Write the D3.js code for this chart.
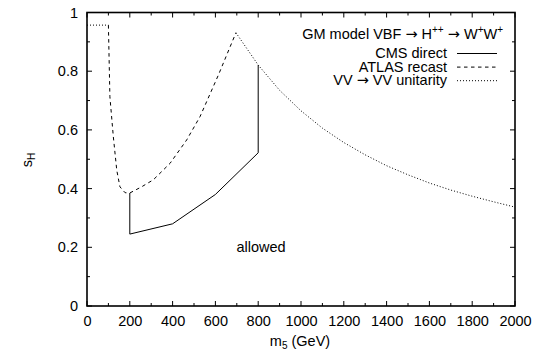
<!DOCTYPE html>
<html><head><meta charset="utf-8">
<script src="https://cdn.jsdelivr.net/npm/d3@7"></script>
<style>body{margin:0;background:#fff}svg{display:block}text{font-family:"Liberation Sans",Arial,sans-serif;fill:#000}.arr{font-family:"DejaVu Sans",sans-serif}</style>
</head><body>
<script>
// Data
const cmsM = [200, 200, 400, 600, 800, 800];
const cmsS = [0.385, 0.245, 0.28, 0.38, 0.522, 0.821];
const atlasM = [100, 107, 123, 139, 154, 178, 200, 255, 310, 388, 466, 528, 614, 696];
const atlasS = [0.957, 0.713, 0.577, 0.463, 0.406, 0.386, 0.385, 0.406, 0.43, 0.486, 0.566, 0.645, 0.787, 0.931];
const unitLowM = [0, 100];
const unitLowS = [0.957, 0.957];
const unitM = [696, 800, 900, 1000, 1100, 1200, 1300, 1400, 1500, 1600, 1700, 1800, 1900, 2000];
const unitS = [0.931, 0.821, 0.735, 0.665, 0.606, 0.557, 0.515, 0.478, 0.447, 0.419, 0.395, 0.374, 0.355, 0.337];
const xTicks = [0, 200, 400, 600, 800, 1000, 1200, 1400, 1600, 1800, 2000];
const yTicks = [0, 0.2, 0.4, 0.6, 0.8, 1];
const legendLabels = ["CMS direct", "ATLAS recast", "VV \u2192 VV unitarity"];

const W = 533, H = 352;
const L = 87, R = 515, T = 12.5, B = 306;
const FS = "14.5px";
const x = d3.scaleLinear().domain([0, 2000]).range([L, R]);
const y = d3.scaleLinear().domain([0, 1]).range([B, T]);

const svg = d3.select("body").append("svg").attr("width", W).attr("height", H);

// ticks (inward, mirrored)
const xMinor = d3.range(0, 2001, 100);
const yMinor = d3.range(0, 1.0001, 0.1);
const tg = svg.append("g").attr("stroke", "#000").attr("stroke-width", 1);
xMinor.forEach(v => {
  const major = Math.round(v) % 200 === 0;
  const len = major ? 5 : 3;
  tg.append("line").attr("x1", x(v)).attr("x2", x(v)).attr("y1", B).attr("y2", B - len);
  tg.append("line").attr("x1", x(v)).attr("x2", x(v)).attr("y1", T).attr("y2", T + len);
});
yMinor.forEach(v => {
  const major = Math.round(v * 10) % 2 === 0;
  const len = major ? 5 : 3;
  tg.append("line").attr("y1", y(v)).attr("y2", y(v)).attr("x1", L).attr("x2", L + len);
  tg.append("line").attr("y1", y(v)).attr("y2", y(v)).attr("x1", R).attr("x2", R - len);
});

// axes labels via d3 axes (ticks hidden)
const xAxis = svg.append("g").attr("transform", `translate(0,${B})`)
  .call(d3.axisBottom(x).tickValues(xTicks).tickSize(0).tickPadding(10).tickFormat(d3.format("d")));
xAxis.select(".domain").remove();
xAxis.selectAll("text").style("font-size", FS).attr("font-family", null);
const yAxis = svg.append("g").attr("transform", `translate(${L},0)`)
  .call(d3.axisLeft(y).tickValues(yTicks).tickSize(0).tickPadding(9).tickFormat(d => d3.format("")(d)));
yAxis.select(".domain").remove();
yAxis.selectAll("text").style("font-size", FS).attr("font-family", null);

// frame
svg.append("rect").attr("x", L).attr("y", T).attr("width", R - L).attr("height", B - T)
  .attr("fill", "none").attr("stroke", "#000").attr("stroke-width", 1.6);

const line = d3.line().x(d => x(d[0])).y(d => y(d[1]));
const g = svg.append("g").attr("fill", "none").attr("stroke", "#000");
g.append("path").datum(cmsM.map((m, i) => [m, cmsS[i]])).attr("d", line).attr("stroke-width", 1);
g.append("path").datum(atlasM.map((m, i) => [m, atlasS[i]])).attr("d", line)
  .attr("stroke-width", 1).attr("stroke-dasharray", "3.5,3.5");
g.append("path").datum(unitLowM.map((m, i) => [m, unitLowS[i]])).attr("d", line)
  .attr("stroke-width", 1).attr("stroke-dasharray", "1,2");
g.append("path").datum(unitM.map((m, i) => [m, unitS[i]])).attr("d", line)
  .attr("stroke-width", 1).attr("stroke-dasharray", "1,2");

// legend
const title = svg.append("text").attr("x", 503).attr("y", 38.5).attr("text-anchor", "end").style("font-size", FS);
title.append("tspan").text("GM model VBF ");
title.append("tspan").attr("class", "arr").text("\u2192");
title.append("tspan").text(" H");
title.append("tspan").text("++").attr("dy", -5.5).style("font-size", "10px");
title.append("tspan").text(" ").attr("dy", 5.5);
title.append("tspan").attr("class", "arr").text("\u2192");
title.append("tspan").text(" W");
title.append("tspan").text("+").attr("dy", -5.5).style("font-size", "10px");
title.append("tspan").text("W").attr("dy", 5.5);
title.append("tspan").text("+").attr("dy", -5.5).style("font-size", "10px");

const dashes = [null, "3.5,3.5", "1,2"];
legendLabels.forEach((lab, i) => {
  const base = 58 + i * 13.6;
  const t = svg.append("text").attr("x", 447).attr("y", base).attr("text-anchor", "end").style("font-size", FS);
  if (lab.includes("\u2192")) {
    const parts = lab.split("\u2192");
    t.append("tspan").text(parts[0]);
    t.append("tspan").attr("class", "arr").text("\u2192");
    t.append("tspan").text(parts[1]);
  } else {
    t.text(lab);
  }
  svg.append("line").attr("x1", 457).attr("x2", 497).attr("y1", base - 4.5).attr("y2", base - 4.5)
    .attr("stroke", "#000").attr("stroke-width", 1).attr("stroke-dasharray", dashes[i]);
});

svg.append("text").attr("x", 261).attr("y", 252).attr("text-anchor", "middle").style("font-size", FS).text("allowed");

// axis titles
const xl = svg.append("text").attr("x", 300).attr("y", 346).attr("text-anchor", "middle").style("font-size", FS);
xl.append("tspan").text("m");
xl.append("tspan").text("5").attr("dy", 3).style("font-size", "10px");
xl.append("tspan").text(" (GeV)").attr("dy", -3);

const yl = svg.append("text").attr("transform", "translate(32,160) rotate(-90)").attr("text-anchor", "middle").style("font-size", FS);
yl.append("tspan").text("s");
yl.append("tspan").text("H").attr("dy", 3).style("font-size", "10px");
</script>
</body></html>
